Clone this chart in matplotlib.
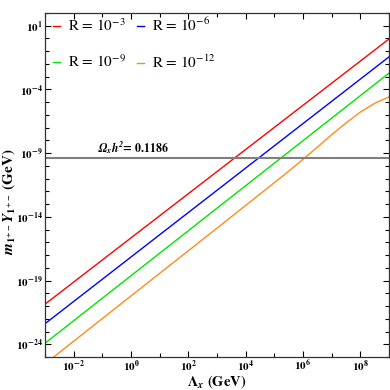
import numpy as np
import matplotlib
matplotlib.use("Agg")
import matplotlib.pyplot as plt
from matplotlib.ticker import LogLocator, FixedLocator, FuncFormatter, NullFormatter

plt.rcParams['font.family'] = ['STIXGeneral', 'DejaVu Sans']
plt.rcParams['mathtext.fontset'] = 'stix'

# ---- data ----
lam_line = [1e-3, 1e9]
red_vals = [1.4e-21, 0.91]        # R = 1e-3
blue_vals = [4.1e-23, 3.6e-2]     # R = 1e-6
green_vals = [1.2e-24, 1.9e-3]    # R = 1e-9

lam_orange = [1e-3, 1e0, 1e3, 1e5, 3.2e5, 1e6, 3.2e6, 1e7, 3.2e7, 1e8, 3.2e8, 1e9]
orange_vals = [2.9e-26, 6.2e-21, 1.3e-15, 4.8e-12, 3.9e-11, 3.3e-10, 3.0e-9,
               2.8e-8, 2.4e-7, 1.66e-6, 8.3e-6, 2.6e-5]  # R = 1e-12

omega_level = 4.4e-10
labels = [r"R = $10^{-3}$", r"R = $10^{-6}$", r"R = $10^{-9}$", r"R = $10^{-12}$"]
colors = ['#ff0000', '#0000ff', '#00e600', '#ff8c1a']

x_major = [1e-2, 1e0, 1e2, 1e4, 1e6, 1e8]
y_major = [1e1, 1e-4, 1e-9, 1e-14, 1e-19, 1e-24]

fig = plt.figure(figsize=(3.9, 3.9), dpi=100)
ax = fig.add_axes([45/390, 1-357/390, (389-45)/390, (357-13)/390])

h_red, = ax.plot(lam_line, red_vals, color=colors[0], lw=1.0, label=labels[0])
h_blue, = ax.plot(lam_line, blue_vals, color=colors[1], lw=1.0, label=labels[1])
h_green, = ax.plot(lam_line, green_vals, color=colors[2], lw=1.0, label=labels[2])
h_orange, = ax.plot(lam_orange, orange_vals, color=colors[3], lw=1.0, label=labels[3])
ax.axhline(omega_level, color='#7f7f7f', lw=1.5)
ax.text(1.2e0, omega_level*6.5, r"$\mathbfit{\Omega_x h^2}$= 0.1186", fontsize=8.5,
        fontweight='bold', ha='center', va='center')

ax.set_xscale('log')
ax.set_yscale('log')
ax.set_xlim(1e-3, 1e9)
ax.set_ylim(1e-25, 1e2)

def fmt(v, pos):
    e = int(round(np.log10(v)))
    return r"$\mathbf{10^{%d}}$" % e

ax.xaxis.set_major_locator(FixedLocator(x_major))
ax.yaxis.set_major_locator(FixedLocator(y_major))
ax.xaxis.set_minor_locator(LogLocator(base=10, subs=[1.0], numticks=50))
ax.yaxis.set_minor_locator(LogLocator(base=10, subs=[1.0], numticks=50))
ax.xaxis.set_major_formatter(FuncFormatter(fmt))
ax.yaxis.set_major_formatter(FuncFormatter(fmt))
ax.xaxis.set_minor_formatter(NullFormatter())
ax.yaxis.set_minor_formatter(NullFormatter())
ax.tick_params(which='both', direction='in', top=True, right=True, labelsize=8, width=0.8)
ax.tick_params(which='major', length=4)
ax.tick_params(which='minor', length=3)
ax.tick_params(axis='x', which='major', pad=1.5)
ax.tick_params(axis='y', which='major', pad=1.5)
for s in ax.spines.values():
    s.set_linewidth(0.9)
    s.set_color('#333333')

ax.set_xlabel(r"$\mathbf{\Lambda}_{\mathbfit{x}}$ (GeV)", fontsize=10.5, fontweight='bold')
ax.xaxis.set_label_coords(0.5, (357-382)/344)
ax.xaxis.label.set_va('center')
ax.set_ylabel(r"$\mathbfit{m}_{\mathbf{1^{+-}}}\mathbfit{Y}_{\mathbf{1^{+-}}}$ (GeV)", fontsize=11,
              fontweight='bold')
ax.yaxis.set_label_coords((9-45)/344, (357-202)/344)
ax.yaxis.label.set_va('center')

leg = ax.legend([h_red, h_green, h_blue, h_orange],
                [labels[0], labels[2], labels[1], labels[3]],
                loc='upper left', bbox_to_anchor=(0.0, 1.012), ncol=2, frameon=False, fontsize=11,
                handlelength=0.5, handletextpad=0.5, columnspacing=0.7, labelspacing=1.3,
                borderaxespad=0.1)

fig.savefig("out.png", dpi=100)
